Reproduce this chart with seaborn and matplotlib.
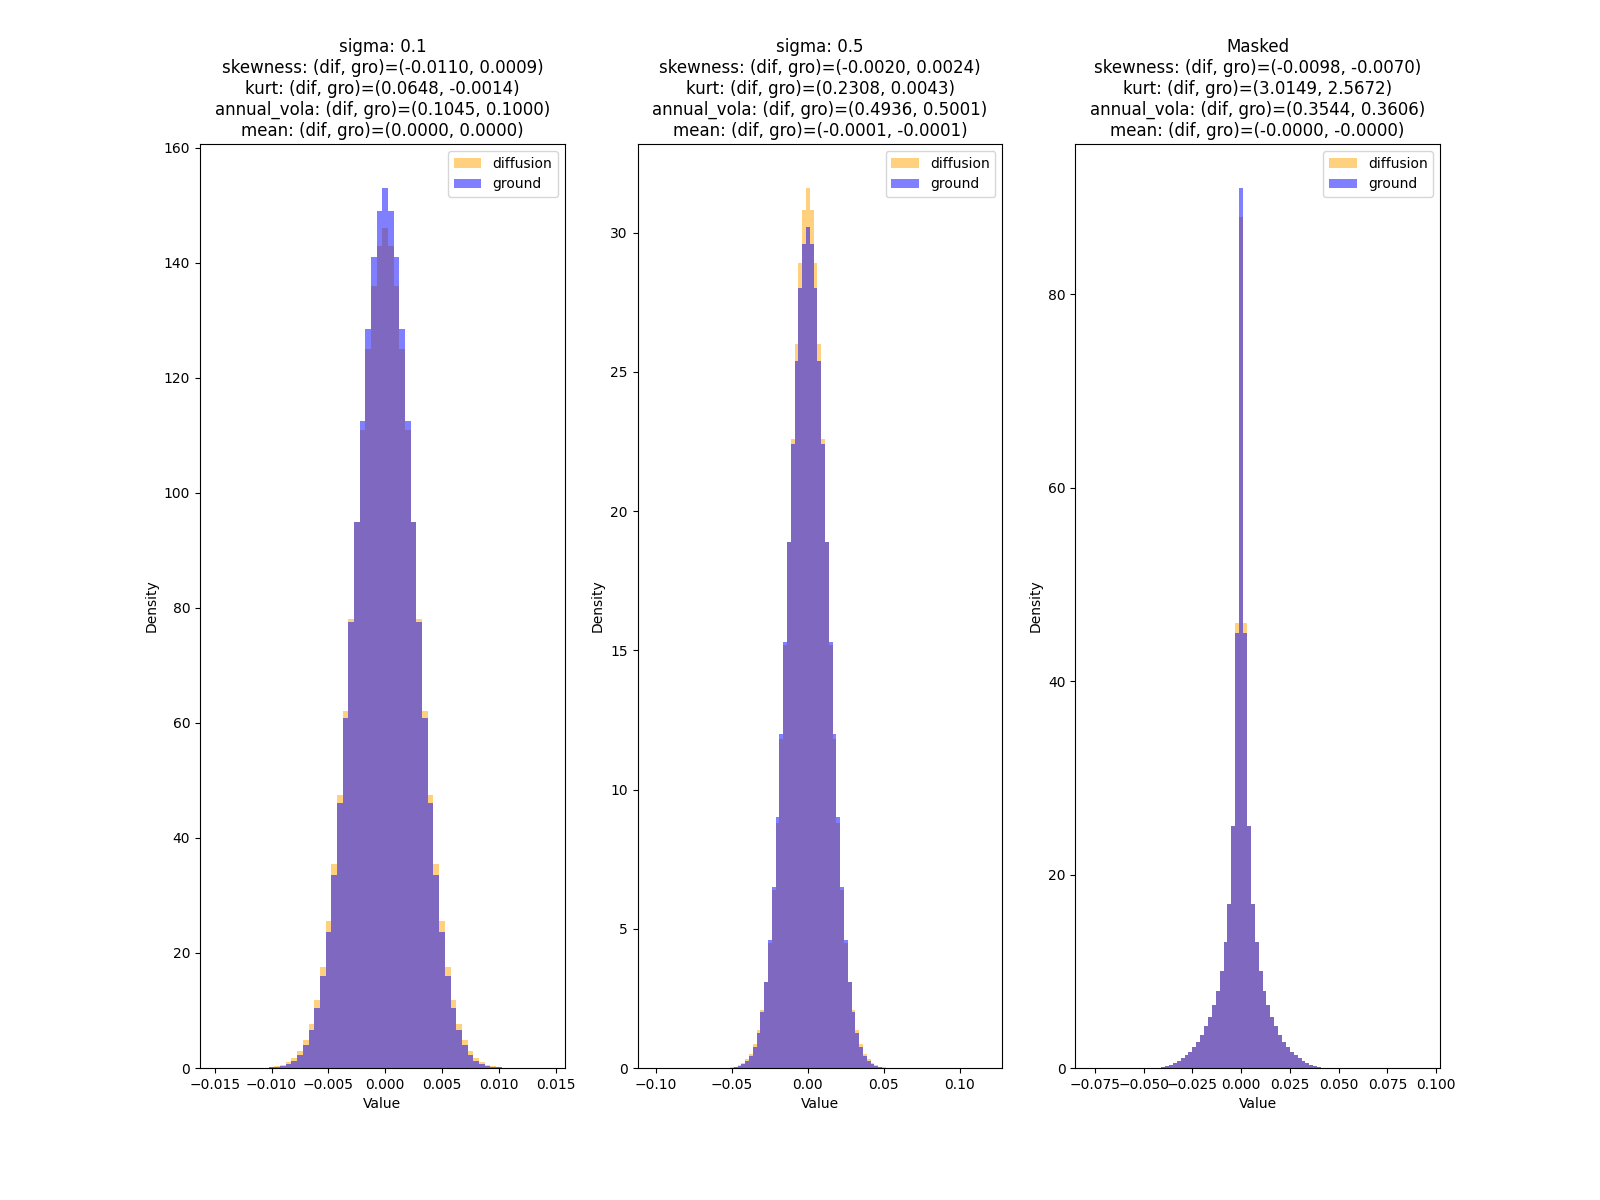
import pandas as pd
import matplotlib
matplotlib.use("Agg")
import matplotlib.pyplot as plt
import seaborn as sns

# Half-profiles (centre bin outwards) of bin heights;
# the histograms are close to symmetric, so each side mirrors the other.
half_dif_a = [146, 143, 136, 125, 111, 95, 78, 62, 47.5, 35.5, 25.5, 17.5, 11.8,
              7.6, 4.8, 2.9, 1.7, 1.0, 0.55, 0.3, 0.16, 0.08, 0.04, 0.02, 0.01]
half_gro_a = [153, 149, 141, 128.5, 112.5, 95, 77.5, 60.8, 46, 33.5, 23.6,
              16.0, 10.5, 6.6, 4.0, 2.3, 1.3, 0.7, 0.37, 0.19, 0.09, 0.04, 0.02,
              0.01, 0.005]
half_dif_b = [31.6, 30.8, 28.9, 26.0, 22.6, 18.9, 15.2, 11.8, 8.8, 6.4, 4.5, 3.1,
              2.1, 1.35, 0.85, 0.52, 0.31, 0.18, 0.1, 0.05, 0.03, 0.015, 0.008,
              0.004, 0.002]
half_gro_b = [30.2, 29.6, 28.0, 25.4, 22.4, 18.9, 15.3, 12.0, 9.0, 6.5, 4.6, 3.1,
              2.0, 1.25, 0.77, 0.44, 0.25, 0.13, 0.07, 0.03, 0.015, 0.007, 0.003,
              0.002, 0.001]
half_dif_c = [88, 46, 25, 17, 13, 10, 8.0, 6.5, 5.3, 4.3, 3.4, 2.7, 2.2, 1.7,
              1.3, 1.0, 0.7, 0.5, 0.35, 0.25, 0.15]
half_gro_c = [91, 45, 25, 17, 13, 10, 8.0, 6.5, 5.3, 4.3, 3.4, 2.7, 2.2, 1.7,
              1.3, 1.0, 0.7, 0.5, 0.35, 0.25, 0.15]
bin_widths = [0.0005, 0.0025, 0.002]

titles = [
    "sigma: 0.1\nskewness: (dif, gro)=(-0.0110, 0.0009)\nkurt: (dif, gro)=(0.0648, -0.0014)\n"
    "annual_vola: (dif, gro)=(0.1045, 0.1000)\nmean: (dif, gro)=(0.0000, 0.0000)",
    "sigma: 0.5\nskewness: (dif, gro)=(-0.0020, 0.0024)\nkurt: (dif, gro)=(0.2308, 0.0043)\n"
    "annual_vola: (dif, gro)=(0.4936, 0.5001)\nmean: (dif, gro)=(-0.0001, -0.0001)",
    "Masked\nskewness: (dif, gro)=(-0.0098, -0.0070)\nkurt: (dif, gro)=(3.0149, 2.5672)\n"
    "annual_vola: (dif, gro)=(0.3544, 0.3606)\nmean: (dif, gro)=(-0.0000, -0.0000)",
]
xlims = [(-0.0163, 0.0158), (-0.112, 0.128), (-0.085, 0.102)]


def mirror(half):
    return half[:0:-1] + half


panels = [(half_dif_a, half_gro_a), (half_dif_b, half_gro_b), (half_dif_c, half_gro_c)]

fig, axes = plt.subplots(1, 3, figsize=(16, 12), dpi=100)
for ax, (hd, hg), w, title, xl in zip(axes, panels, bin_widths, titles, xlims):
    n = len(hd) - 1
    centers = [w * k for k in range(-n, n + 1)]
    edges = [w * (k - 0.5) for k in range(-n, n + 2)]
    df = pd.DataFrame({'x': centers, 'dif': mirror(hd), 'gro': mirror(hg)})
    sns.histplot(data=df, x='x', weights='dif', bins=edges, stat='count',
                 color='orange', alpha=0.5, linewidth=0, label='diffusion', ax=ax)
    sns.histplot(data=df, x='x', weights='gro', bins=edges, stat='count',
                 color='blue', alpha=0.5, linewidth=0, label='ground', ax=ax)
    ax.set_xlim(*xl)
    ax.set_title(title, fontsize=12)
    ax.set_xlabel('Value')
    ax.set_ylabel('Density')
    ax.legend(loc='upper right', fontsize=10)

plt.savefig('out.png', dpi=100)
